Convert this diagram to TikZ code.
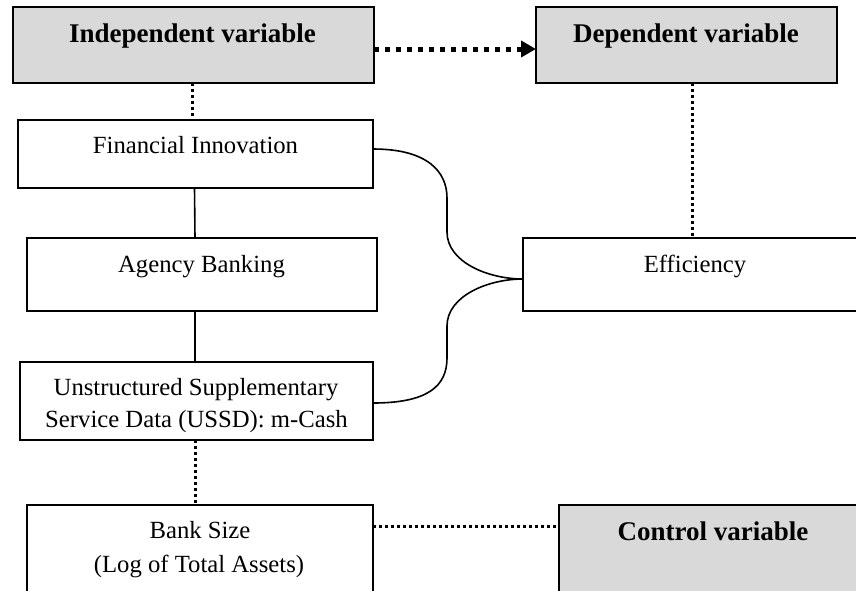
\documentclass[tikz,border=0pt]{standalone}
\usepackage{fontspec}
\setmainfont{Liberation Serif}
\usetikzlibrary{arrows.meta}
\definecolor{boxgray}{RGB}{217,217,217}
\begin{document}
\begin{tikzpicture}[x=1pt,y=-1pt,
  bx/.style={draw=black,line width=2.8pt,fill=white,inner sep=0pt,outer sep=0pt,
    minimum width=#1},
  gbx/.style={bx=#1,fill=boxgray},
  txt/.style={anchor=base,inner sep=0pt,font=\fontsize{24.7}{30}\selectfont},
  btxt/.style={txt,font=\fontsize{27}{30}\selectfont\bfseries},
  thickdot/.style={line width=5pt,dash pattern=on 5pt off 6pt},
  thindot/.style={line width=3pt,dash pattern=on 3pt off 3pt},
  solidline/.style={line width=1.6pt}]
\useasboundingbox (0,0) rectangle (856,590);
\clip (0,0) rectangle (856,590);
\fill[white] (0,0) rectangle (856,590);
% boxes
\node[gbx=361pt,minimum height=76pt] (ind) at (193.5,45) {};
\node[gbx=301pt,minimum height=76pt] (dep) at (686.5,45) {};
\node[bx=355pt,minimum height=68pt] (fi) at (195.5,154) {};
\node[bx=350pt,minimum height=73pt] (ag) at (202,274.5) {};
\node[bx=353pt,minimum height=78pt] (us) at (196.5,401) {};
\node[bx=346pt,minimum height=135pt] (bs) at (200,572.5) {};
\node[bx=357pt,minimum height=73pt] (eff) at (701.5,274.5) {};
\node[gbx=321pt,minimum height=135pt] (ctl) at (719.5,572.5) {};
% texts
\node[btxt] (tind) at (192.5,42) {Independent variable};
\node[btxt] (tdep) at (686,42) {Dependent variable};
\node[txt] (tfi) at (195.5,153) {Financial Innovation};
\node[txt] (tag) at (201.5,272) {Agency Banking};
\node[txt] (teff) at (695,272) {Efficiency};
\node[txt] (tus1) at (196,395) {Unstructured Supplementary};
\node[txt] (tus2) at (196.5,427) {Service Data (USSD): m-Cash};
\node[txt] (tbs1) at (200,538) {Bank Size};
\node[txt] (tbs2) at (199,572) {(Log of Total Assets)};
\node[btxt] (tctl) at (713,540) {Control variable};
% connectors
\draw[thickdot,-{Triangle[length=15pt,width=16pt]}]
  ([yshift=-4pt]ind.east) -- ([yshift=-4pt]ind.east -| dep.west);
\draw[thindot] ([xshift=-1.5pt]ind.south) -- ([xshift=-1.5pt]ind.south |- fi.north);
\draw[thindot] ([xshift=5.5pt]dep.south) -- ([xshift=5.5pt]dep.south |- eff.north);
\draw[solidline] ([xshift=-1pt]fi.south) -- ([xshift=-7pt]ag.north);
\draw[solidline] ([xshift=-7pt]ag.south) -- ([xshift=-1.5pt]us.north);
\draw[thindot] ([xshift=-1.5pt]us.south) -- ([xshift=-1.5pt]us.south |- bs.north);
\draw[thindot] ([yshift=-21.5pt]bs.north east) -- ([yshift=-21.5pt]bs.north east -| ctl.west);
% braces
\coordinate (mid1) at ([yshift=-4.5pt]eff.west);
\draw[solidline] ([yshift=5pt]fi.east) .. controls +(55,0) and +(0,-26) .. (447,198) -- (447,232)
  .. controls +(0,30) and +(-35,0) .. (mid1);
\draw[solidline] (mid1) .. controls +(-35,0) and +(0,-30) .. (447,326) -- (447,358)
  .. controls +(0,28) and +(55,0) .. ([yshift=-2pt]us.east);
\end{tikzpicture}
\end{document}
